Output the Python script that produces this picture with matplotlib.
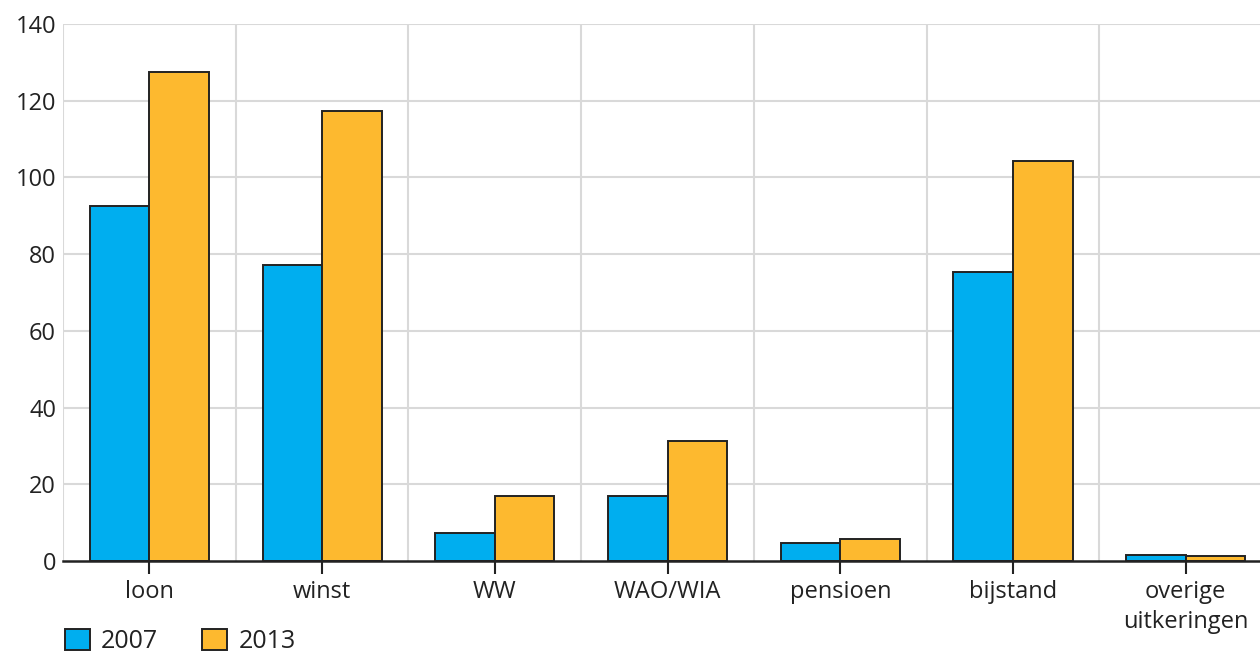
import matplotlib
matplotlib.use("Agg")
import matplotlib.pyplot as plt
import numpy as np

categories = ["loon", "winst", "WW", "WAO/WIA", "pensioen", "bijstand", "overige\nuitkeringen"]
values_2007 = [92.5, 77.2, 7.3, 16.9, 4.7, 75.3, 1.6]
values_2013 = [127.5, 117.3, 16.9, 31.3, 5.7, 104.3, 1.3]
series_labels = ["2007", "2013"]
yticks = [0, 20, 40, 60, 80, 100, 120, 140]

plt.rcParams['font.family'] = ['Open Sans', 'DejaVu Sans']

fig = plt.figure(figsize=(12.6, 6.55), dpi=100)
ax = fig.add_axes([63/1260, 1 - 561/655, 1 - 63/1260, (561 - 24)/655])

x = np.arange(len(categories))
w = 0.345
blue = "#00AEEF"
yellow = "#FDB92F"
edge = "#222222"
b1 = ax.bar(x - w/2, values_2007, w, color=blue, edgecolor=edge, linewidth=1.4, zorder=3, label=series_labels[0])
b2 = ax.bar(x + w/2, values_2013, w, color=yellow, edgecolor=edge, linewidth=1.4, zorder=3, label=series_labels[1])

ax.set_xlim(-0.5, 6.43)
ax.set_ylim(0, 140)
ax.set_yticks(yticks)
ax.set_xticks(x)
ax.set_xticklabels(categories, fontsize=17, color="#222222", linespacing=1.3)
ax.set_yticklabels([str(v) for v in yticks], fontsize=17, color="#222222")

# grid
for v in yticks[1:]:
    ax.axhline(v, color="#d9d9d9", linewidth=1.5, zorder=1)
for b in np.arange(-0.5, len(categories), 1.0):
    ax.axvline(b, color="#d9d9d9", linewidth=1.5, zorder=1)

for s in ["top", "right", "left"]:
    ax.spines[s].set_visible(False)
ax.spines["bottom"].set_color(edge)
ax.spines["bottom"].set_linewidth(1.8)
ax.spines["bottom"].set_zorder(4)

ax.tick_params(axis="y", length=0, pad=5)
ax.tick_params(axis="x", length=9, width=1.5, color=edge, pad=5)

leg = fig.legend(handles=[b1, b2], labels=series_labels, loc="lower left",
                 bbox_to_anchor=(65/1260, 1/655), ncol=2, frameon=False, fontsize=18,
                 handlelength=1.0, handleheight=0.9, handletextpad=0.45, columnspacing=1.75,
                 borderaxespad=0, borderpad=0)
for t in leg.get_texts():
    t.set_color("#222222")

fig.savefig("out.png", dpi=100)
